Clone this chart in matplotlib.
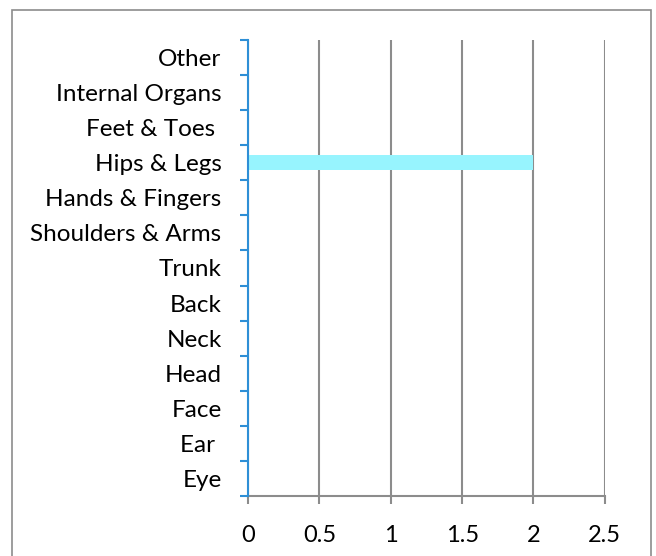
import matplotlib.pyplot as plt
from matplotlib.patches import Rectangle
import numpy as np

# Injury counts by body part
body_parts = ['Eye', 'Ear ', 'Face', 'Head', 'Neck', 'Back', 'Trunk',
              'Shoulders & Arms', 'Hands & Fingers', 'Hips & Legs',
              'Feet & Toes ', 'Internal Organs', 'Other']
counts = [0, 0, 0, 0, 0, 0, 0, 0, 0, 2, 0, 0, 0]
x_ticks = [0, 0.5, 1, 1.5, 2, 2.5]
x_labels = ['0', '0.5', '1', '1.5', '2', '2.5']

plt.rcParams['font.family'] = ['Lato', 'DejaVu Sans']

fig = plt.figure(figsize=(6.56, 5.56), dpi=100)
ax = fig.add_axes([0.378, 0.108, 0.544, 0.820])

y = np.arange(len(body_parts))
ax.barh(y, counts, height=0.43, color='#97F4FE', zorder=3)

ax.set_xlim(0, 2.5)
ax.set_ylim(-0.5, len(body_parts) - 0.5)
ax.set_xticks(x_ticks)
ax.set_xticklabels(x_labels, fontsize=17)
ax.set_yticks(y)
ax.set_yticklabels(body_parts, fontsize=17.5)
ax.set_yticks(np.arange(-0.5, len(body_parts)), minor=True)

ax.grid(axis='x', color='#8C8C8C', linewidth=1.5, zorder=1)
ax.set_axisbelow(True)

for side in ['top', 'right']:
    ax.spines[side].set_visible(False)
ax.spines['left'].set_color('#2E8FD6')
ax.spines['left'].set_linewidth(1.5)
ax.spines['left'].set_zorder(4)
ax.spines['bottom'].set_color('#8C8C8C')
ax.spines['bottom'].set_linewidth(1.5)

ax.tick_params(axis='y', which='major', length=0, pad=19)
ax.tick_params(axis='y', which='minor', length=6, width=1.5, color='#2E8FD6')
ax.tick_params(axis='x', length=6, width=1.5, color='#8C8C8C', pad=15)

# chart border
fig.patches.append(Rectangle((12 / 656, -0.01), 639 / 656, 1 - 10 / 556 + 0.01,
                             transform=fig.transFigure, fill=False,
                             edgecolor='#8C8C8C', linewidth=1.2))

fig.savefig('out.png', dpi=100)
